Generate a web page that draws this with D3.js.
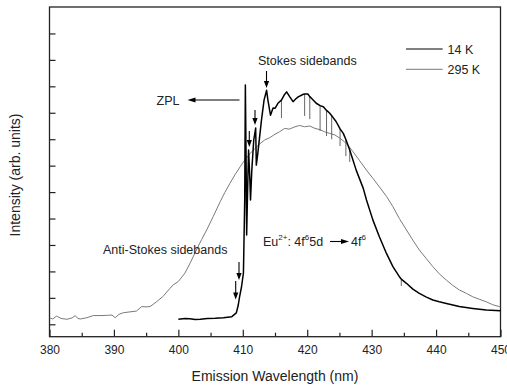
<!DOCTYPE html>
<html><head><meta charset="utf-8">
<script src="https://cdn.jsdelivr.net/npm/d3@7/dist/d3.min.js"></script>
<style>
html,body{margin:0;padding:0;background:#fff;}
svg{display:block;font-family:"Liberation Sans",Arial,sans-serif;}
</style></head>
<body>
<svg id="c" width="507" height="386"></svg>
<script>
// ---- data ----
const xTicks = [380, 390, 400, 410, 420, 430, 440, 450];
const xMinorTicks = [385, 395, 405, 415, 425, 435, 445];
const yTicks = [0, 1, 2, 3, 4, 5, 6, 7, 8, 9, 10, 11];
const seriesNames = ["14 K", "295 K"];

const wl295 = [380.0,380.5,381.1,381.8,382.7,383.5,384.0,384.4,384.8,385.8,386.8,388.0,389.0,389.7,390.2,390.8,391.5,392.5,393.5,394.3,395.0,395.6,396.6,397.6,398.7,399.2,400.0,401.0,401.9,402.8,403.6,404.4,405.4,406.5,407.2,408.0,408.8,409.6,410.3,411.1,411.9,412.6,413.4,414.2,415.0,415.7,416.5,417.2,418.1,418.8,419.6,420.4,421.2,422.0,422.7,423.5,424.3,425.0,425.8,426.5,427.1,428.1,429.2,430.2,431.2,432.3,433.3,434.3,435.4,436.4,437.4,438.5,439.5,440.5,441.6,442.6,443.6,444.7,445.7,446.8,447.8,448.8,449.8,450.0];
const int295 = [0.25,0.20,0.31,0.22,0.19,0.24,0.33,0.22,0.20,0.25,0.33,0.33,0.34,0.35,0.25,0.38,0.44,0.47,0.50,0.67,0.66,0.67,0.85,1.05,1.36,1.49,1.62,1.93,2.35,2.81,3.20,3.57,4.07,4.64,4.98,5.33,5.66,5.96,6.21,6.45,6.65,6.82,6.97,7.06,7.19,7.28,7.41,7.38,7.47,7.52,7.47,7.50,7.41,7.36,7.28,7.22,7.16,7.05,6.90,6.72,6.53,6.20,5.83,5.52,5.20,4.84,4.45,4.00,3.57,3.18,2.81,2.48,2.18,1.91,1.67,1.47,1.30,1.17,1.04,0.94,0.85,0.74,0.67,0.66];

const wl14 = [400.0,401.0,401.8,402.6,403.4,404.5,405.7,407.0,408.3,409.0,409.3,409.5,409.8,410.1,410.3,410.4,410.5,410.6,410.8,410.9,411.1,411.2,411.4,411.7,412.0,412.1,412.3,412.9,413.3,413.7,413.9,414.3,414.7,415.0,415.5,416.0,416.4,416.8,417.3,417.8,418.2,418.6,419.4,419.6,420.1,420.4,420.7,421.4,422.0,422.5,423.0,423.5,423.8,424.5,425.1,425.6,426.0,426.6,427.6,428.7,429.2,430.2,431.2,432.3,433.3,434.3,434.6,435.4,436.4,437.4,438.5,439.5,440.5,441.6,443.6,445.7,447.8,450.0];
const int14 = [0.19,0.22,0.21,0.18,0.19,0.22,0.23,0.25,0.29,0.43,0.73,1.04,1.41,1.94,4.70,9.05,6.59,3.38,5.65,6.59,5.46,4.70,5.83,6.97,7.42,6.02,6.40,7.72,8.48,8.85,8.48,7.91,8.18,8.17,8.37,8.48,8.66,8.79,8.60,8.42,8.52,8.60,8.70,8.71,8.71,8.61,8.54,8.36,8.27,8.23,8.09,7.98,7.89,7.66,7.39,7.22,6.99,6.59,5.83,5.14,4.70,3.94,3.31,2.68,2.18,1.80,1.71,1.55,1.33,1.17,1.03,0.92,0.85,0.79,0.67,0.60,0.54,0.51];

// narrow downward spikes in the 14 K spectrum (wavelength, lowest intensity)
const spikeWl = [416.0, 419.6, 420.4, 422.0, 423.0, 423.8, 425.1, 426.0, 426.6, 434.6];
const spikeInt = [7.80, 7.88, 7.76, 7.31, 7.12, 7.00, 6.74, 6.36, 6.14, 1.45];

// ---- layout ----
const L = 49.5, R = 500.5, T = 7, B = 336.7;
const svg = d3.select("#c");
const x = d3.scaleLinear().domain([380, 450]).range([L, R]);
const y = d3.scaleLinear().domain([-0.469, 12.0]).range([B, T]);

svg.append("defs").append("clipPath").attr("id", "clip")
  .append("rect").attr("x", L).attr("y", T).attr("width", R - L).attr("height", B - T);

// axes
const gx = svg.append("g").attr("transform", `translate(0,${B})`)
  .call(d3.axisBottom(x).tickValues(xTicks).tickSize(-7).tickPadding(9).tickFormat(d3.format("d")));
const gxm = svg.append("g").attr("transform", `translate(0,${B})`)
  .call(d3.axisBottom(x).tickValues(xMinorTicks).tickSize(-4).tickFormat(""));
const gy = svg.append("g").attr("transform", `translate(${L},0)`)
  .call(d3.axisLeft(y).tickValues(yTicks).tickSize(-6).tickFormat(""));
[gx, gxm, gy].forEach(g => {
  g.select(".domain").remove();
  g.selectAll(".tick line").attr("stroke", "#222").attr("stroke-width", 1.2);
  g.selectAll(".tick text").attr("fill", "#222").style("font-size", "12px")
    .style("font-family", '"Liberation Sans",Arial,sans-serif');
});

// frame
svg.append("rect").attr("x", L).attr("y", T).attr("width", R - L).attr("height", B - T)
  .attr("fill", "none").attr("stroke", "#222").attr("stroke-width", 1.3);

// lines
const line = d3.line().x(d => x(d[0])).y(d => y(d[1]));
const d295 = wl295.map((w, i) => [w, int295[i]]);
const d14 = wl14.map((w, i) => [w, int14[i]]);
const plot = svg.append("g").attr("clip-path", "url(#clip)");
plot.append("path").datum(d295).attr("d", line).attr("fill", "none")
  .attr("stroke", "#7a7a7a").attr("stroke-width", 1);

// spikes: from the 14 K curve down to the spike minimum
const interp14 = w => {
  const i = d3.bisectLeft(wl14, w);
  if (i <= 0) return int14[0];
  const t = (w - wl14[i - 1]) / (wl14[i] - wl14[i - 1]);
  return int14[i - 1] + t * (int14[i] - int14[i - 1]);
};
plot.selectAll("line.spike").data(spikeWl.map((w, i) => [w, spikeInt[i]])).join("line")
  .attr("class", "spike")
  .attr("x1", d => x(d[0])).attr("x2", d => x(d[0]))
  .attr("y1", d => y(interp14(d[0]))).attr("y2", d => y(d[1]))
  .attr("stroke", "#666").attr("stroke-width", 1);

plot.append("path").datum(d14).attr("d", line).attr("fill", "none")
  .attr("stroke", "#000").attr("stroke-width", 1.5).attr("stroke-linejoin", "round");

// legend
const leg = [{name: seriesNames[0], color: "#000", w: 1}, {name: seriesNames[1], color: "#7a7a7a", w: 1}];
leg.forEach((s, i) => {
  const ly = 49 + i * 20.3;
  svg.append("line").attr("x1", 406).attr("x2", 442.7).attr("y1", ly).attr("y2", ly)
    .attr("stroke", s.color).attr("stroke-width", s.w);
  svg.append("text").attr("x", 447.5).attr("y", ly + 4.5).attr("fill", "#222")
    .style("font-size", "12.5px").text(s.name);
});

// axis titles
svg.append("text").attr("x", 275).attr("y", 381).attr("text-anchor", "middle")
  .attr("fill", "#222").style("font-size", "14px").text("Emission Wavelength (nm)");
svg.append("text").attr("transform", "translate(20,175) rotate(-90)").attr("text-anchor", "middle")
  .attr("fill", "#222").style("font-size", "14px").text("Intensity (arb. units)");

// annotations
const ann = svg.append("g").attr("fill", "#222").style("font-size", "12.5px");
function downArrow(ax, y1, y2) {
  ann.append("line").attr("x1", ax).attr("x2", ax).attr("y1", y1).attr("y2", y2 - 5)
    .attr("stroke", "#000").attr("stroke-width", 1.1);
  ann.append("path").attr("d", `M${ax - 2.6},${y2 - 7}L${ax + 2.6},${y2 - 7}L${ax},${y2}Z`).attr("fill", "#000");
}
function hArrow(x1, x2, ay) { // head at x2
  const dir = x2 > x1 ? 1 : -1;
  ann.append("line").attr("x1", x1).attr("x2", x2 - dir * 5).attr("y1", ay).attr("y2", ay)
    .attr("stroke", "#000").attr("stroke-width", 1.1);
  ann.append("path").attr("d", `M${x2 - dir * 8},${ay - 2.6}L${x2 - dir * 8},${ay + 2.6}L${x2},${ay}Z`).attr("fill", "#000");
}
ann.append("text").attr("x", 258).attr("y", 64.5).text("Stokes sidebands");
downArrow(266.5, 71, 88);
downArrow(255, 110, 125);
downArrow(249.3, 131, 147);
ann.append("text").attr("x", 156.5).attr("y", 104.5).text("ZPL");
hArrow(239.5, 187.5, 100);
ann.append("text").attr("x", 103).attr("y", 254).text("Anti-Stokes sidebands");
downArrow(239, 262, 280);
downArrow(235.7, 281, 299.5);

const eu = ann.append("text").attr("x", 263).attr("y", 246);
eu.append("tspan").text("Eu");
eu.append("tspan").attr("dy", -6).style("font-size", "8px").text("2+");
eu.append("tspan").attr("dy", 6).text(": 4f");
eu.append("tspan").attr("dy", -6).style("font-size", "8px").text("6");
eu.append("tspan").attr("dy", 6).text("5d");
hArrow(330, 349, 241.5);
const eu2 = ann.append("text").attr("x", 351).attr("y", 246);
eu2.append("tspan").text("4f");
eu2.append("tspan").attr("dy", -6).style("font-size", "8px").text("6");
</script>
</body></html>
